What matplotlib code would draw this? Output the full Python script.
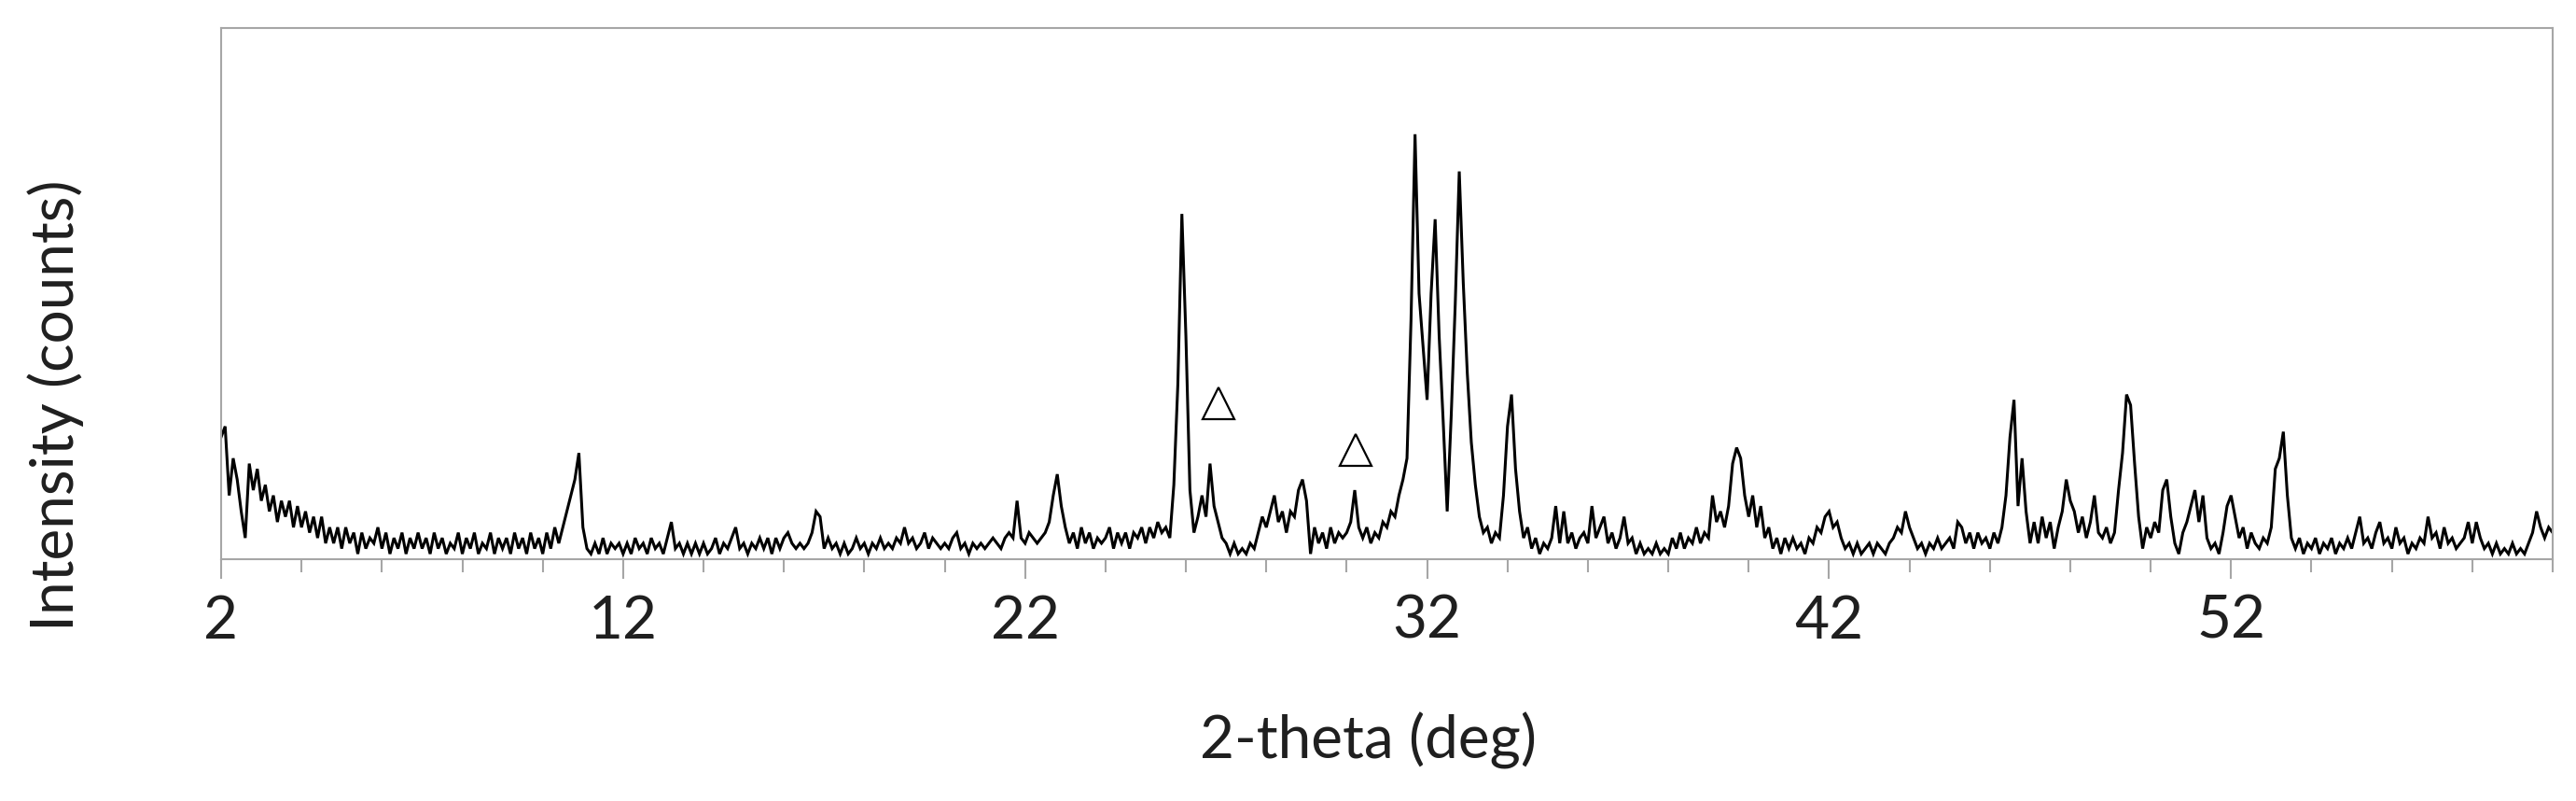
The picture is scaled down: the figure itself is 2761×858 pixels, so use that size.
import numpy as np
import matplotlib
matplotlib.use("Agg")
import matplotlib.pyplot as plt
from matplotlib.ticker import MultipleLocator, FixedLocator

# 2-theta scan, 0.1 deg step from 2 to 60
two_theta = np.round(np.arange(2.0, 60.05, 0.1), 1)

# intensity (0 = axis, 100 = top of frame), one row per degree
intensity = [
    23, 25, 12, 19, 15, 9, 4, 18, 13, 17,      # 2
    11, 14, 9, 12, 7, 11, 8, 11, 6, 10,        # 3
    6, 9, 5, 8, 4, 8, 3, 6, 3, 6,              # 4
    2, 6, 3, 5, 1, 5, 2, 4, 3, 6,              # 5
    2, 5, 1, 4, 2, 5, 1, 4, 2, 5,              # 6
    2, 4, 1, 5, 2, 4, 1, 3, 2, 5,              # 7
    1, 4, 2, 5, 1, 3, 2, 5, 1, 4,              # 8
    2, 4, 1, 5, 2, 4, 1, 5, 2, 4,              # 9
    1, 5, 2, 6, 3, 6, 9, 12, 15, 20,           # 10
    6, 2, 1, 3, 1, 4, 1, 3, 2, 3,              # 11
    1, 3, 1, 4, 2, 3, 1, 4, 2, 3,              # 12
    1, 4, 7, 2, 3, 1, 3, 1, 3, 1,              # 13
    3, 1, 2, 4, 1, 3, 2, 4, 6, 2,              # 14
    3, 1, 3, 2, 4, 2, 4, 1, 4, 2,              # 15
    4, 5, 3, 2, 3, 2, 3, 5, 9, 8,              # 16
    2, 4, 2, 3, 1, 3, 1, 2, 4, 2,              # 17
    3, 1, 3, 2, 4, 2, 3, 2, 4, 3,              # 18
    6, 3, 4, 2, 3, 5, 2, 4, 3, 2,              # 19
    3, 2, 4, 5, 2, 3, 1, 3, 2, 3,              # 20
    2, 3, 4, 3, 2, 4, 5, 4, 11, 4,             # 21
    3, 5, 4, 3, 4, 5, 7, 12, 16, 10,           # 22
    6, 3, 5, 2, 6, 3, 5, 2, 4, 3,              # 23
    4, 6, 2, 5, 3, 5, 2, 5, 4, 6,              # 24
    3, 6, 4, 7, 5, 6, 4, 14, 33, 65,           # 25
    42, 13, 5, 8, 12, 8, 18, 10, 7, 4,         # 26
    3, 1, 3, 1, 2, 1, 3, 2, 5, 8,              # 27
    6, 9, 12, 7, 9, 5, 9, 8, 13, 15,           # 28
    11, 1, 6, 3, 5, 2, 6, 3, 5, 4,             # 29
    5, 7, 13, 6, 4, 6, 3, 5, 4, 7,             # 30
    6, 9, 8, 12, 15, 19, 45, 80, 50, 40,       # 31
    30, 50, 64, 42, 26, 9, 27, 48, 73, 52,     # 32
    35, 22, 14, 8, 5, 6, 3, 5, 4, 12,          # 33
    25, 31, 17, 9, 4, 6, 2, 4, 1, 3,           # 34
    2, 4, 10, 3, 9, 3, 5, 2, 4, 5,             # 35
    3, 10, 4, 6, 8, 3, 5, 2, 4, 8,             # 36
    3, 4, 1, 3, 1, 2, 1, 3, 1, 2,              # 37
    1, 4, 2, 5, 2, 4, 3, 6, 3, 5,              # 38
    4, 12, 7, 9, 6, 10, 18, 21, 19, 12,        # 39
    8, 12, 6, 10, 4, 6, 2, 4, 1, 4,            # 40
    2, 4, 2, 3, 1, 4, 3, 6, 5, 8,              # 41
    9, 6, 7, 4, 2, 3, 1, 3, 1, 2,              # 42
    3, 1, 3, 2, 1, 3, 4, 6, 5, 9,              # 43
    6, 4, 2, 3, 1, 3, 2, 4, 2, 3,              # 44
    4, 2, 7, 6, 3, 5, 2, 5, 3, 4,              # 45
    2, 5, 3, 6, 12, 23, 30, 10, 19, 9,         # 46
    3, 7, 3, 8, 4, 7, 2, 6, 9, 15,             # 47
    11, 9, 5, 8, 4, 7, 12, 5, 4, 6,            # 48
    3, 5, 13, 20, 31, 29, 18, 8, 2, 6,         # 49
    4, 7, 5, 13, 15, 8, 3, 1, 5, 7,            # 50
    10, 13, 7, 12, 4, 2, 3, 1, 5, 10,          # 51
    12, 8, 4, 6, 2, 5, 3, 2, 4, 3,             # 52
    6, 17, 19, 24, 12, 4, 2, 4, 1, 3,          # 53
    2, 4, 1, 3, 2, 4, 1, 3, 2, 4,              # 54
    2, 5, 8, 3, 4, 2, 5, 7, 3, 4,              # 55
    2, 6, 3, 4, 1, 3, 2, 4, 3, 8,              # 56
    4, 5, 2, 6, 3, 4, 2, 3, 4, 7,              # 57
    3, 7, 4, 2, 3, 1, 3, 1, 2, 1,              # 58
    3, 1, 2, 1, 3, 5, 9, 6, 4, 6,              # 59
    5,                                          # 60
]

# open-triangle markers above two minor reflections
marker_x = [26.8, 30.23]
marker_y = [29.3, 20.5]

major_ticks = [2, 12, 22, 32, 42, 52]

plt.rcParams['font.family'] = ['Lato', 'DejaVu Sans']
text_color = '#1f1f1f'
frame_color = '#A6A6A6'

fig = plt.figure(figsize=(27.61, 8.58), dpi=100)
ax = fig.add_axes([237 / 2761, 1 - 599 / 858, 2499 / 2761, 569 / 858])

ax.plot(two_theta, intensity, color='black', lw=2.2, solid_joinstyle='miter')
ax.plot(marker_x, marker_y, ls='none', marker='^', ms=24,
        mfc='white', mec='black', mew=1.6)

ax.set_xlim(2, 60)
ax.set_ylim(0, 100)

ax.xaxis.set_major_locator(FixedLocator(major_ticks))
ax.xaxis.set_minor_locator(MultipleLocator(2))
ax.tick_params(axis='x', which='major', length=15, width=1.5, color=frame_color,
               labelsize=46, labelcolor=text_color, pad=12)
ax.tick_params(axis='x', which='minor', length=10, width=1.5, color=frame_color)
ax.set_yticks([])

for s in ax.spines.values():
    s.set_color(frame_color)
    s.set_linewidth(1.5)

fig.text(1467 / 2761, 1 - 793 / 858, '2-theta (deg)', ha='center', va='center',
         fontsize=46, color=text_color)
fig.text(60 / 2761, 1 - 434 / 858, 'Intensity (counts)', ha='center', va='center',
         rotation=90, fontsize=46, color=text_color)

fig.savefig('out.png', dpi=100)
